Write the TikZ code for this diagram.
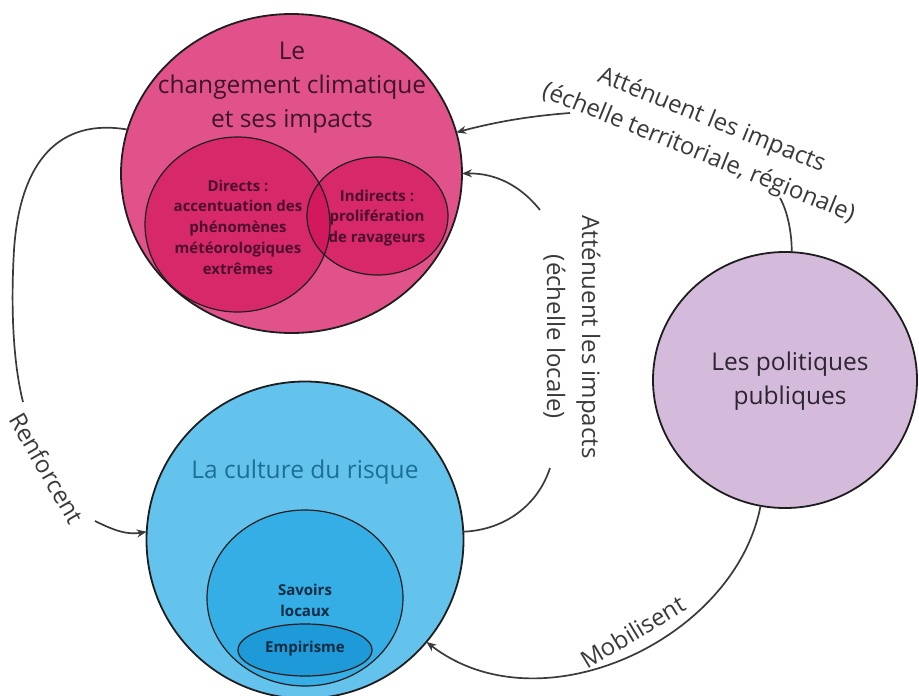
\documentclass[tikz,border=0pt]{standalone}
\usepackage{fontspec}
\setmainfont{Open Sans}
\usetikzlibrary{shapes.geometric,arrows.meta}
\definecolor{pinkout}{HTML}{E2528A}
\definecolor{pinkin}{HTML}{D00F56}
\definecolor{blueout}{HTML}{63C3EC}
\definecolor{bluemid}{HTML}{35ADE5}
\definecolor{bluein}{HTML}{1F9AD8}
\definecolor{purp}{HTML}{D4BBDB}
\definecolor{edgecol}{HTML}{1E1E1E}
\definecolor{linkcol}{HTML}{3A3A3A}
\definecolor{pinktext}{HTML}{3D1529}
\definecolor{pinkbold}{HTML}{4D0F2C}
\definecolor{bluetext}{HTML}{1C6E97}
\definecolor{navy}{HTML}{0E2C42}
\definecolor{purptext}{HTML}{2E2433}
\begin{document}
\begin{tikzpicture}[x=1pt,y=-1pt,
  blob/.style={ellipse, draw=edgecol, line width=1.8pt, inner sep=0pt, outer sep=0pt},
  subblob/.style={ellipse, draw=edgecol, line width=1.2pt, inner sep=0pt, outer sep=0pt},
  titletxt/.style={font=\fontsize{24.5}{34}\selectfont, align=center, inner sep=0pt},
  boldtxt/.style={font=\fontsize{15}{20.8}\selectfont\bfseries, align=center, inner sep=0pt},
  lbl/.style={font=\fontsize{24}{35}\selectfont, text=linkcol, align=center, inner sep=0pt},
  conn/.style={draw=linkcol, line width=1.7pt},
  arr/.style={conn, -{Stealth[length=10pt,width=8pt]}},
]
\useasboundingbox (0,0) rectangle (919,696);

% --- climate change ---
\node[blob, fill=pinkout, minimum width=341pt, minimum height=319pt] (cc) at (291.5,173.5) {};
\fill[pinkin, fill opacity=0.6] (237.5,224.5) ellipse [x radius=92.5, y radius=87.5];
\fill[pinkin, fill opacity=0.6] (377.5,216) ellipse [x radius=70.5, y radius=59];
\node[subblob, minimum width=185pt, minimum height=175pt] (dir) at (237.5,224.5) {};
\node[subblob, minimum width=141pt, minimum height=118pt] (ind) at (377.5,216) {};
\node[titletxt, text=pinktext] (cctitle) at (292,88) {Le\\changement climatique\\et ses impacts};
\node[boldtxt, text=pinkbold] (dirtxt) at (238,227) {Directs :\\accentuation des\\phénomènes\\météorologiques\\extrêmes};
\node[boldtxt, text=pinkbold] (indtxt) at (377,218) {Indirects :\\prolifération\\de ravageurs};

% --- risk culture ---
\node[blob, fill=blueout, minimum size=317pt] (bc) at (305,540) {};
\fill[bluemid] (305,598) ellipse [x radius=98, y radius=88];
\node[subblob, minimum width=196pt, minimum height=176pt] (sav) at (305,598) {};
\fill[bluein] (305,650) ellipse [x radius=67, y radius=26];
\node[subblob, minimum width=134pt, minimum height=52pt] (emp) at (305,650) {};
\node[titletxt, text=bluetext] (bctitle) at (305,472) {La culture du risque};
\node[boldtxt, text=navy] (savtxt) at (305,600) {Savoirs\\locaux};
\node[boldtxt, text=navy] (emptxt) at (305,649) {Empirisme};

% --- public policies ---
\node[blob, fill=purp, minimum width=264pt, minimum height=256pt] (pc) at (785,380) {};
\node[titletxt, text=purptext] (pctxt) at (790,381) {Les politiques\\publiques};

% --- Renforcent ---
\coordinate (r1) at (23,402);
\coordinate (r2) at (95,521);
\draw[conn] (cc.165) .. controls (60,118) and (20,160) .. (14,250) .. controls (10,320) and (15,370) .. (r1);
\node[lbl, rotate=-60] (renf) at (47,468) {Renforcent};
\draw[arr] (r2) .. controls (115,531) and (128,535) .. (bc.177);

% --- territorial ---
\coordinate (t1) at (780,198);
\coordinate (t2) at (570,113);
\draw[conn] (pc.87) .. controls (792,235) and (788,212) .. (t1);
\node[lbl, rotate=-22] (terr) at (705,137) {Atténuent les impacts\\(échelle territoriale, régionale)};
\draw[arr] (t2) .. controls (530,116) and (495,122) .. (cc.14);

% --- local ---
\coordinate (l1) at (550,468);
\coordinate (l2) at (540,210);
\draw[conn] (bc.3) .. controls (505,530) and (538,505) .. (l1);
\node[lbl, rotate=-90] (loc) at (572,337) {Atténuent les impacts\\(échelle locale)};
\draw[arr] (l2) .. controls (520,185) and (495,173) .. (cc.0);

% --- Mobilisent ---
\draw[arr] (pc.-101) .. controls (735,640) and (540,730) .. (bc.-40);
\node[lbl, rotate=31] (mob) at (633,632) {Mobilisent};
\end{tikzpicture}
\end{document}
